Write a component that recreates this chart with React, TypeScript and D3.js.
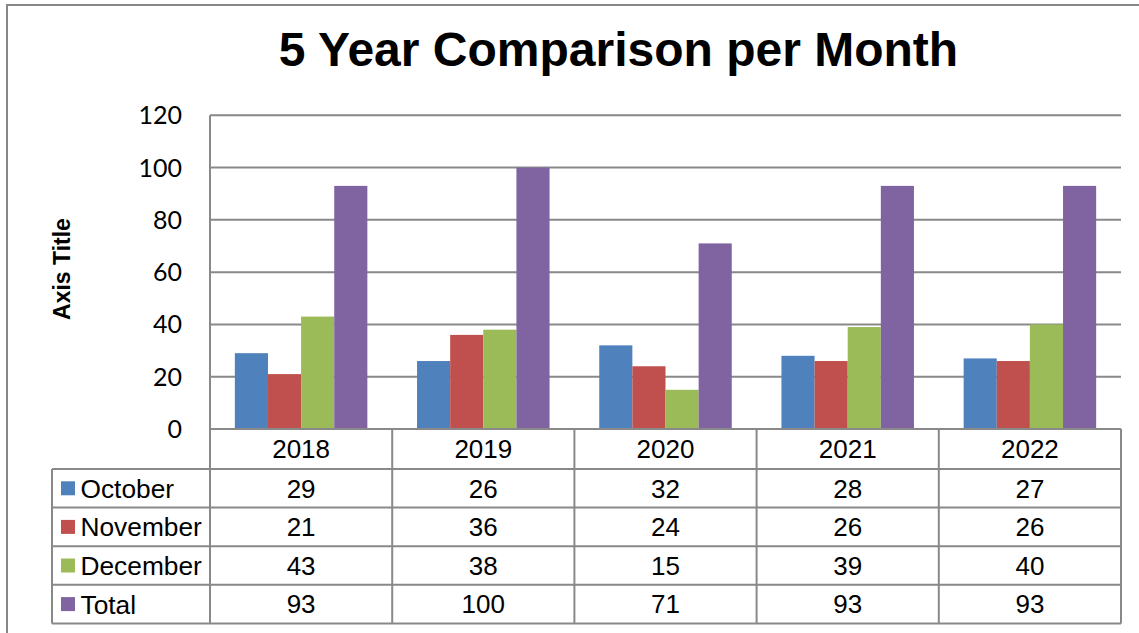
import React from "react";
import * as d3 from "d3";

const years = ["2018", "2019", "2020", "2021", "2022"];
const seriesNames = ["October", "November", "December", "Total"];
const october = [29, 26, 32, 28, 27];
const november = [21, 36, 24, 26, 26];
const december = [43, 38, 15, 39, 40];
const total = [93, 100, 71, 93, 93];
const seriesValues = [october, november, december, total];
const colors = ["#4F81BD", "#C0504D", "#9BBB59", "#8064A2"];
const yTicks = [0, 20, 40, 60, 80, 100, 120];

const W = 1139;
const H = 633;
const plotLeft = 210;
const plotRight = 1121;
const plotTop = 115.3;
const plotBottom = 429;
const headerBottom = 469;
const rowH = 38.6;
const tableLeft = 52;
const lineColor = "#898989";

export default function App() {
  const x0 = d3.scaleBand<string>().domain(years).range([plotLeft, plotRight]).paddingInner(0).paddingOuter(0);
  const x1 = d3
    .scaleBand<string>()
    .domain(seriesNames)
    .range([0, x0.bandwidth()])
    .paddingInner(0)
    .paddingOuter(0.75);
  const y = d3.scaleLinear().domain([0, 120]).range([plotBottom, plotTop]);

  const rowTop = (i: number) => headerBottom + i * rowH;
  const tableBottom = rowTop(seriesNames.length);

  return (
    <svg width={W} height={H} style={{ position: "absolute", left: 0, top: 0, background: "#fff" }}>
      <rect x={7} y={5} width={W + 20} height={H + 20} fill="#fff" stroke="#878787" strokeWidth={2} />
      <text
        x={618.5}
        y={66}
        textAnchor="middle"
        fontFamily="'Liberation Sans', Arial, sans-serif"
        fontWeight="bold"
        fontSize={48}
        fill="#000"
      >
        5 Year Comparison per Month
      </text>
      {/* gridlines */}
      {yTicks.map((t) => (
        <line key={"g" + t} x1={plotLeft} x2={plotRight} y1={y(t)} y2={y(t)} stroke={lineColor} strokeWidth={2} />
      ))}
      {yTicks.map((t) => (
        <text
          key={"t" + t}
          x={182}
          y={y(t)}
          dy="0.36em"
          textAnchor="end"
          fontFamily="Lato, 'Open Sans', sans-serif"
          fontSize={25}
          fill="#000"
        >
          {t}
        </text>
      ))}
      <text
        transform="translate(62,269) rotate(-90)"
        textAnchor="middle"
        dy="0.36em"
        fontFamily="'Liberation Sans', Arial, sans-serif"
        fontWeight="bold"
        fontSize={23}
        fill="#000"
      >
        Axis Title
      </text>
      {/* bars */}
      {years.map((yr, i) => (
        <g key={yr} transform={`translate(${x0(yr)},0)`}>
          {seriesNames.map((s, j) => {
            const v = seriesValues[j][i];
            return (
              <rect
                key={s}
                x={x1(s)}
                y={y(v)}
                width={x1.bandwidth()}
                height={plotBottom - y(v)}
                fill={colors[j]}
              />
            );
          })}
        </g>
      ))}
      {/* table lines */}
      <line x1={plotLeft} x2={plotRight} y1={plotBottom} y2={plotBottom} stroke={lineColor} strokeWidth={2} />
      {seriesNames.map((s, i) => (
        <line key={"r" + s} x1={tableLeft} x2={plotRight} y1={rowTop(i)} y2={rowTop(i)} stroke={lineColor} strokeWidth={2} />
      ))}
      <line x1={tableLeft} x2={plotRight} y1={tableBottom} y2={tableBottom} stroke={lineColor} strokeWidth={2} />
      <line x1={tableLeft} x2={tableLeft} y1={headerBottom} y2={tableBottom} stroke={lineColor} strokeWidth={2} />
      <line x1={plotLeft} x2={plotLeft} y1={plotTop} y2={tableBottom} stroke={lineColor} strokeWidth={2} />
      {years.map((yr) => (
        <line
          key={"v" + yr}
          x1={(x0(yr) as number) + x0.bandwidth()}
          x2={(x0(yr) as number) + x0.bandwidth()}
          y1={plotBottom}
          y2={tableBottom}
          stroke={lineColor}
          strokeWidth={2}
        />
      ))}
      {/* header */}
      {years.map((yr) => (
        <text
          key={"h" + yr}
          x={(x0(yr) as number) + x0.bandwidth() / 2}
          y={(plotBottom + headerBottom) / 2}
          dy="0.36em"
          textAnchor="middle"
          fontFamily="'Liberation Sans', Arial, sans-serif"
          fontSize={26}
          fill="#000"
        >
          {yr}
        </text>
      ))}
      {/* rows */}
      {seriesNames.map((s, j) => {
        const cy = rowTop(j) + rowH / 2;
        return (
          <g key={"row" + s}>
            <rect x={61} y={cy - 7} width={14} height={14} fill={colors[j]} />
            <text
              x={80.5}
              y={cy}
              dy="0.36em"
              fontFamily="'Liberation Sans', Arial, sans-serif"
              fontSize={26.3}
              fill="#000"
            >
              {s}
            </text>
            {years.map((yr, i) => (
              <text
                key={yr}
                x={(x0(yr) as number) + x0.bandwidth() / 2}
                y={cy}
                dy="0.36em"
                textAnchor="middle"
                fontFamily="'Liberation Sans', Arial, sans-serif"
                fontSize={26}
                fill="#000"
              >
                {seriesValues[j][i]}
              </text>
            ))}
          </g>
        );
      })}
    </svg>
  );
}
